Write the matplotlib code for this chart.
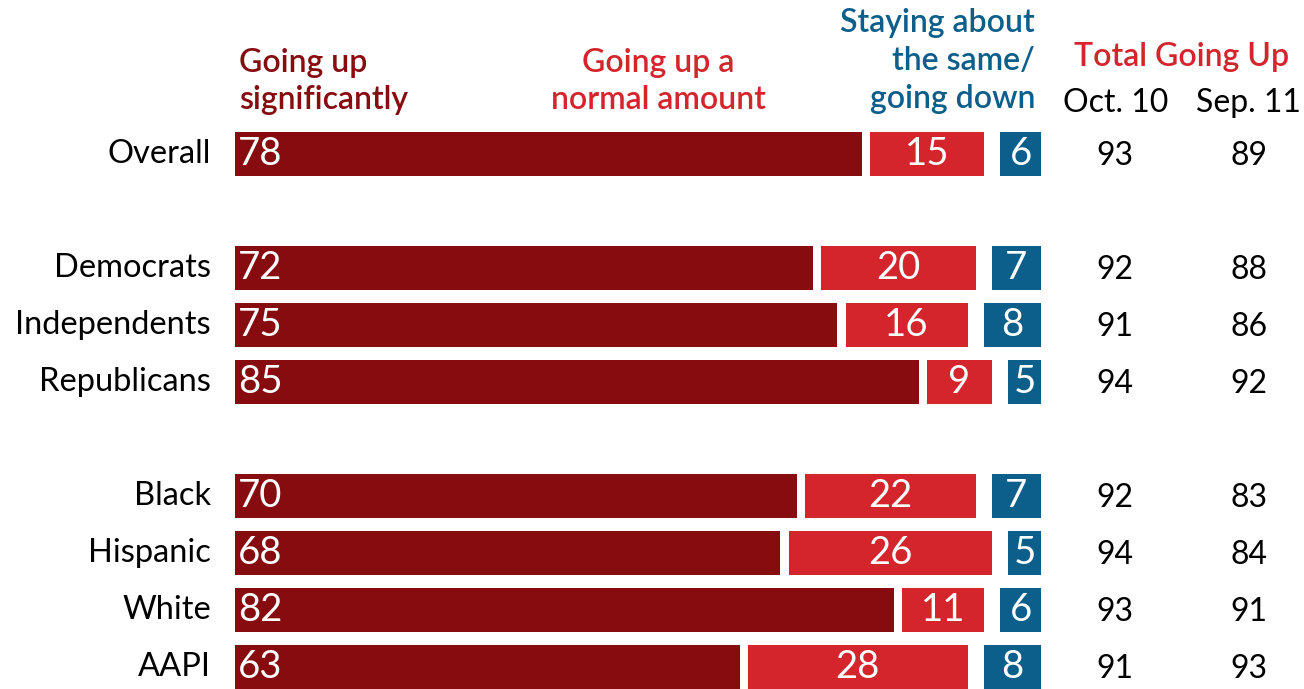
import matplotlib
matplotlib.use("Agg")
import matplotlib.pyplot as plt

categories = ["Overall", "Democrats", "Independents", "Republicans",
              "Black", "Hispanic", "White", "AAPI"]
going_up_sig = [78, 72, 75, 85, 70, 68, 82, 63]
going_up_normal = [15, 20, 16, 9, 22, 26, 11, 28]
same_or_down = [6, 7, 8, 5, 7, 5, 6, 8]
total_oct10 = [93, 92, 91, 94, 92, 94, 93, 91]
total_sep11 = [89, 88, 86, 92, 83, 84, 91, 93]
row_pos = [0, 2, 3, 4, 6, 7, 8, 9]

DARK = "#860C0F"
RED = "#D4252C"
BLUE = "#0C5F8B"
FONT = ["Lato", "DejaVu Sans"]
plt.rcParams["font.family"] = FONT

W, H = 1304, 689
fig = plt.figure(figsize=(W / 100, H / 100), dpi=100)
ax = fig.add_axes([235 / W, 0, 814 / W, 1])
ax.set_xlim(0, 100)
# row k centred at pixel 154 + 57k
ax.set_ylim((H - 154) / 57, -154 / 57)
ax.axis("off")

gap = 1.0
bh = 0.77
lab_fs = 23.5
num_fs = 27.5
col_fs = 23

def py(px):
    return (px - 154) / 57

def px_x(px):
    return (px - 235) / 8.14

for i, y in enumerate(row_pos):
    a, b, c = going_up_sig[i], going_up_normal[i], same_or_down[i]
    ax.barh(y, a - gap, left=0, height=bh, color=DARK)
    ax.barh(y, b - gap, left=a, height=bh, color=RED)
    ax.barh(y, c - gap, left=100 - c, height=bh, color=BLUE)
    ax.text(0.4, y, str(a), color="white", fontsize=num_fs, ha="left", va="center")
    ax.text(a + (b - gap) / 2, y, str(b), color="white", fontsize=num_fs, ha="center", va="center")
    ax.text(100 - c + (c - gap) / 2, y, str(c), color="white", fontsize=num_fs, ha="center", va="center")
    ax.text(px_x(211), y, categories[i], color="black", fontsize=lab_fs, ha="right", va="center")
    ax.text(px_x(1115), y + 0.04, str(total_oct10[i]), color="black", fontsize=col_fs, ha="center", va="center", clip_on=False)
    ax.text(px_x(1249), y + 0.04, str(total_sep11[i]), color="black", fontsize=col_fs, ha="center", va="center", clip_on=False)

hdr_fs = 23
def hline(xpx, ypx, s, color, ha):
    ax.text(px_x(xpx), py(ypx), s, color=color, fontsize=hdr_fs, ha=ha, va="baseline",
            fontweight="semibold", clip_on=False)

hline(239, 72, "Going up", DARK, "left")
hline(239, 109, "significantly", DARK, "left")
hline(658, 72, "Going up a", RED, "center")
hline(658, 109, "normal amount", RED, "center")
hline(1035, 32, "Staying about", BLUE, "right")
hline(1035, 70, "the same/", BLUE, "right")
hline(1035, 108, "going down", BLUE, "right")
hline(1182, 66, "Total Going Up", RED, "center")
ax.text(px_x(1116), py(112), "Oct. 10", color="black", fontsize=hdr_fs, ha="center", va="baseline", clip_on=False)
ax.text(px_x(1248), py(112), "Sep. 11", color="black", fontsize=hdr_fs, ha="center", va="baseline", clip_on=False)

fig.savefig("out.png", dpi=100)
